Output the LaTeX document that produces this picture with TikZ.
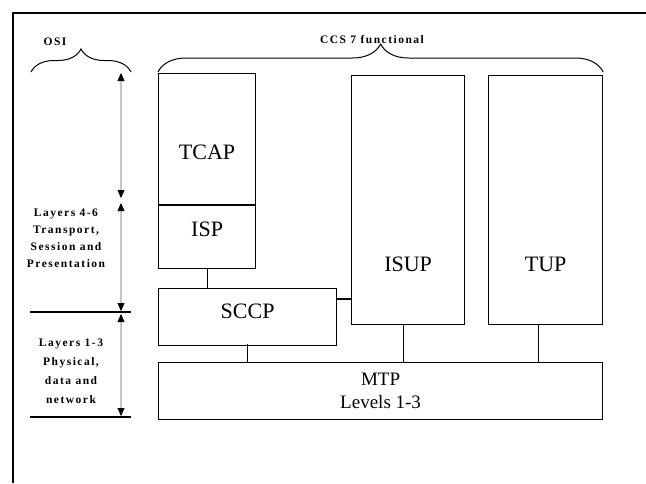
\documentclass[tikz,border=0pt]{standalone}
\usepackage{fontspec}
\setmainfont{Liberation Serif}
\usetikzlibrary{arrows.meta, positioning, calc, decorations.pathreplacing}

\begin{document}
\begin{tikzpicture}[
        x=1pt,
        y=-1pt,
        layer/.style={
            draw,
            line width=1.2pt,
            inner sep=0pt,
            anchor=north west
        },
        layername/.style={
            font=\fontsize{22}{26}\selectfont
        },
        link/.style={
            line width=1.2pt
        },
        spanarrow/.style={
            {Triangle[length=8pt, width=7pt, color=black, line width=0.4pt]}-{Triangle[length=8pt, width=7pt, color=black, line width=0.4pt]},
            line width=2.4pt,
            gray!45
        },
        ositext/.style={
            font=\fontsize{11.5}{17}\selectfont\bfseries\addfontfeature{LetterSpace=13},
            align=center
        },
        groupbrace/.style={
            decorate,
            line width=1pt
        }
    ]

        \useasboundingbox (0,0) rectangle (646,483);

        % ---------------------------------------------------------------------
        % Page frame
        % ---------------------------------------------------------------------

        \draw[line width=1.5pt] (13,483) -- (13,13) -- (646,13);

        % ---------------------------------------------------------------------
        % CCS 7 functional blocks
        % ---------------------------------------------------------------------

        \node[
            layer,
            minimum width=97pt,
            minimum height=131pt
        ] (tcap) at (158,73) {};

        \node[
            layer,
            minimum width=97pt,
            minimum height=63pt,
            below=0pt of tcap
        ] (isp) {};

        \node[
            layer,
            minimum width=178pt,
            minimum height=57pt
        ] (sccp) at (158,288) {};

        \node[
            layer,
            minimum width=113pt,
            minimum height=249pt
        ] (isup) at (351,75) {};

        \node[
            layer,
            minimum width=114pt,
            minimum height=249pt
        ] (tup) at (488,75) {};

        \node[
            layer,
            minimum width=444pt,
            minimum height=57pt,
            align=center,
            font=\fontsize{19}{23}\selectfont
        ] (mtp) at (158,362) {
            MTP\\
            Levels 1-3
        };

        \node[layername] (tcaplabel) at ([yshift=-13.5pt]tcap.center) {TCAP};
        \node[layername] (isplabel) at ([yshift=7.5pt]isp.center) {ISP};
        \node[layername] (sccplabel) at ([yshift=5.5pt]sccp.center) {SCCP};
        \node[layername] (isuplabel) at ([yshift=-64.5pt]isup.center) {ISUP};
        \node[layername] (tuplabel) at ([yshift=-64.5pt]tup.center) {TUP};

        % ---------------------------------------------------------------------
        % Links between the blocks
        % ---------------------------------------------------------------------

        \draw[link] (isp.south) -- (isp.south |- sccp.north);
        \draw[link] ([yshift=2pt]sccp.south) -- (sccp.south |- mtp.north);
        \draw[link]
            ([yshift=-11pt]sccp.north east)
            --
            ([yshift=-11pt]sccp.north east -| isup.west);
        \draw[link] ([xshift=-5pt]isup.south) -- ([xshift=-5pt]isup.south |- mtp.north);
        \draw[link] ([xshift=-7pt]tup.south) -- ([xshift=-7pt]tup.south |- mtp.north);

        % ---------------------------------------------------------------------
        % Braces
        % ---------------------------------------------------------------------

        \coordinate (osileft) at (31,72);
        \coordinate (osiright) at (131,72);

        \draw[groupbrace, decoration={brace, amplitude=23pt}]
            (osileft) -- (osiright);

        \draw[groupbrace, decoration={brace, amplitude=28pt}]
            ([yshift=1pt]tcap.north west) -- ([yshift=1pt]tcap.north west -| tup.north east);

        \node[ositext] (osi) at (55,42) {OSI};
        \node[ositext] (ccs) at (372,40) {CCS 7 functional};

        % ---------------------------------------------------------------------
        % OSI layer spans
        % ---------------------------------------------------------------------

        \draw[line width=1.2pt] (30,312) -- (131,312);
        \draw[line width=1.2pt] (30,417) -- (131,417);

        \draw[spanarrow] (121,73) -- (121,198);
        \draw[spanarrow] (121,203) -- (121,311);
        \draw[spanarrow] (121,314) -- (121,416);

        \node[ositext] (upperlayers) at (66,238) {
            Layers 4-6\\
            Transport,\\
            Session and\\
            Presentation
        };

        \node[
            ositext,
            font=\fontsize{11.5}{19}\selectfont\bfseries\addfontfeature{LetterSpace=13}
        ] (lowerlayers) at (71,371) {
            Layers 1-3\\
            Physical,\\
            data and\\
            network
        };

    \end{tikzpicture}
\end{document}
